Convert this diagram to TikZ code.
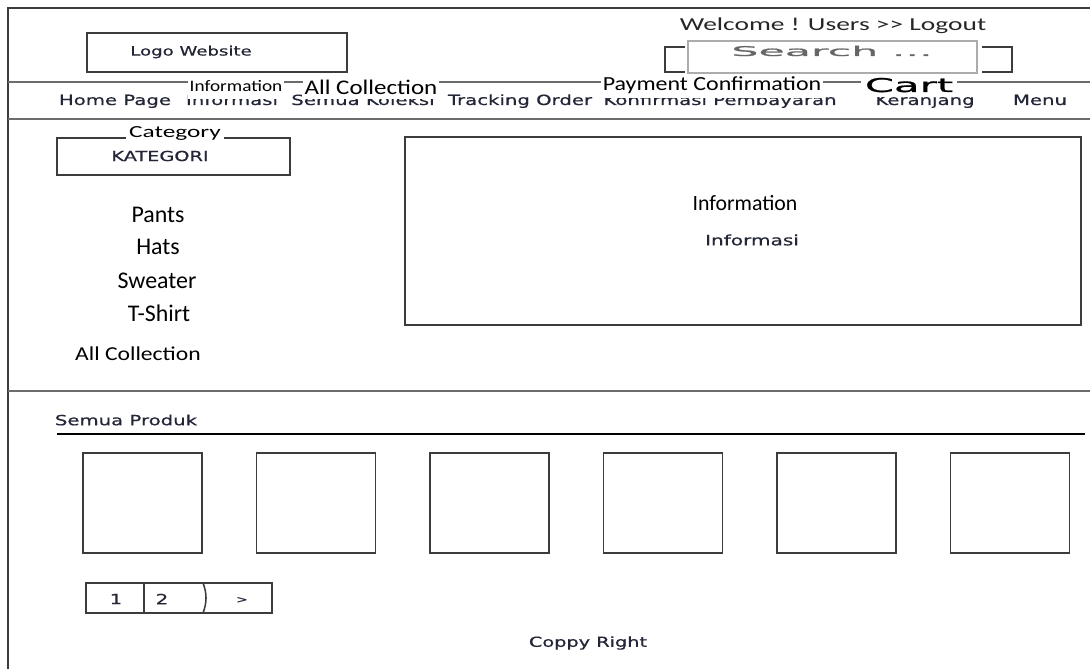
\documentclass[tikz,border=0pt]{standalone}
\usepackage{fontspec}
\setmainfont{Carlito}
\newfontfamily\widefont[FakeStretch=1.4,FakeBold=0.7]{DejaVu Sans}
\newfontfamily\calwide[FakeStretch=1.2]{Carlito}
\newfontfamily\calwider[FakeStretch=1.5]{Carlito}
\newfontfamily\cartfont[FakeStretch=2.2,FakeBold=1]{DejaVu Sans}
\newfontfamily\searchfont[FakeStretch=3.2,FakeBold=1.2]{DejaVu Sans}
\usepackage{xcolor}
\definecolor{ink}{RGB}{35,38,55}
\definecolor{frame}{RGB}{60,60,60}

\tikzset{
  box/.style={draw=frame, line width=1.1pt},
  rule/.style={draw=gray!85!black, line width=1.7pt},
  wtxt/.style={font=\widefont\fontsize{10}{12}\selectfont, text=ink, inner sep=0pt},
  tab/.style={fill=white, inner xsep=1.5pt, inner ysep=0pt, anchor=base, text=black},
  item/.style={font=\fontsize{17}{20}\selectfont, text=black, inner sep=0pt},
}

\begin{document}
\begin{tikzpicture}[x=0.025cm, y=-0.025cm]
\useasboundingbox (0,0) rectangle (1090,669);

% frame and rules
\draw[frame, line width=1.3pt] (8,669) -- (8,8) -- (1090,8);
\draw[rule] (8,82) -- (1090,82);
\draw[rule] (8,119) -- (1090,119);
\draw[rule] (8,391) -- (1090,391);
\draw[black, line width=0.9pt] (57,434) -- (1085,434);

% header
\draw[box] (87,33) rectangle (347,72);
\node[wtxt, font=\widefont\fontsize{9.2}{11}\selectfont] (logo) at (191,52) {Logo Website};

\node[inner sep=0pt, text=black!85, font=\calwider\fontsize{13}{16}\selectfont] (welcome) at (833,26) {Welcome ! Users >> Logout};
\draw[gray!65, line width=1.6pt] (688,41) rectangle (977,73);
\draw[box] (685,47) -- (665,47) -- (665,72) -- (685,72);
\draw[box] (982,47) -- (1012,47) -- (1012,72) -- (982,72);
\node[inner sep=0pt, text=gray!80!black, font=\searchfont\fontsize{9.5}{11}\selectfont] (search) at (832,51) {Search ...};

% menu bar
\node[wtxt, anchor=base] (home) at (115,105) {Home Page};
\node[wtxt, anchor=base] (info) at (232,105) {Informasi};
\node[wtxt, anchor=base] (koleksi) at (363,105) {Semua Koleksi};
\node[wtxt, anchor=base] (track) at (520,105) {Tracking Order};
\node[wtxt, anchor=base] (konfirm) at (720,105) {Konfirmasi Pembayaran};
\node[wtxt, anchor=base] (keranjang) at (925,105) {Keranjang};
\node[wtxt, anchor=base] (menu) at (1040,105) {Menu};

\node[tab, text depth=5pt, font=\calwide\fontsize{11.4}{13}\selectfont] (tabinfo) at (236,91.5) {Information};
\node[tab, text depth=3pt, font=\calwide\fontsize{14.8}{17}\selectfont] (tabcoll) at (371,94.5) {All Collection};
\node[tab, text depth=5.3pt, font=\calwide\fontsize{14.2}{17}\selectfont] (tabpay) at (712,90.5) {Payment Confirmation};
\node[tab, text depth=3.5pt, inner xsep=3pt, font=\cartfont\fontsize{13.5}{16}\selectfont] (tabcart) at (909,92) {Cart};

% category
\draw[box] (57,138) rectangle (290,175);
\node[fill=white, inner xsep=2pt, inner ysep=0pt, font=\calwider\fontsize{12}{14}\selectfont] (cat) at (175,133) {Category};
\node[wtxt, font=\widefont\fontsize{9.8}{12}\selectfont] (kategori) at (160,156) {KATEGORI};

\node[item] (pants) at (158,215) {Pants};
\node[item] (hats) at (158,247) {Hats};
\node[item] (sweater) at (157,281) {Sweater};
\node[item] (tshirt) at (159,313) {T-Shirt};
\node[inner sep=0pt, font=\calwide\fontsize{14}{17}\selectfont] (allcoll) at (138,354) {All Collection};

% information panel
\draw[box] (405,137) rectangle (1081,325);
\node[inner sep=0pt, font=\fontsize{15.5}{18}\selectfont] (infotitle) at (745,203) {Information};
\node[wtxt, font=\widefont\fontsize{10.2}{12}\selectfont] (infotext) at (752,240) {Informasi};

% products
\node[wtxt] (produk) at (126,420) {Semua Produk};
\foreach \i in {0,...,5}
  \draw[box] ({83+173.5*\i},453) rectangle ++(119,100);

\draw[box] (86,583) rectangle (272,613);
\draw[box] (144,583) -- (144,613);
\draw[box] (203,583) .. controls (207,593) and (207,603) .. (203,613);
\node[wtxt] (pone) at (116,599) {1};
\node[wtxt] (ptwo) at (162,599) {2};
\node[wtxt, font=\widefont\fontsize{7}{8}\selectfont] (pnext) at (242,600) {>};

\node[wtxt, font=\widefont\fontsize{9.8}{12}\selectfont] (copy) at (588,643) {Coppy Right};

\end{tikzpicture}
\end{document}
